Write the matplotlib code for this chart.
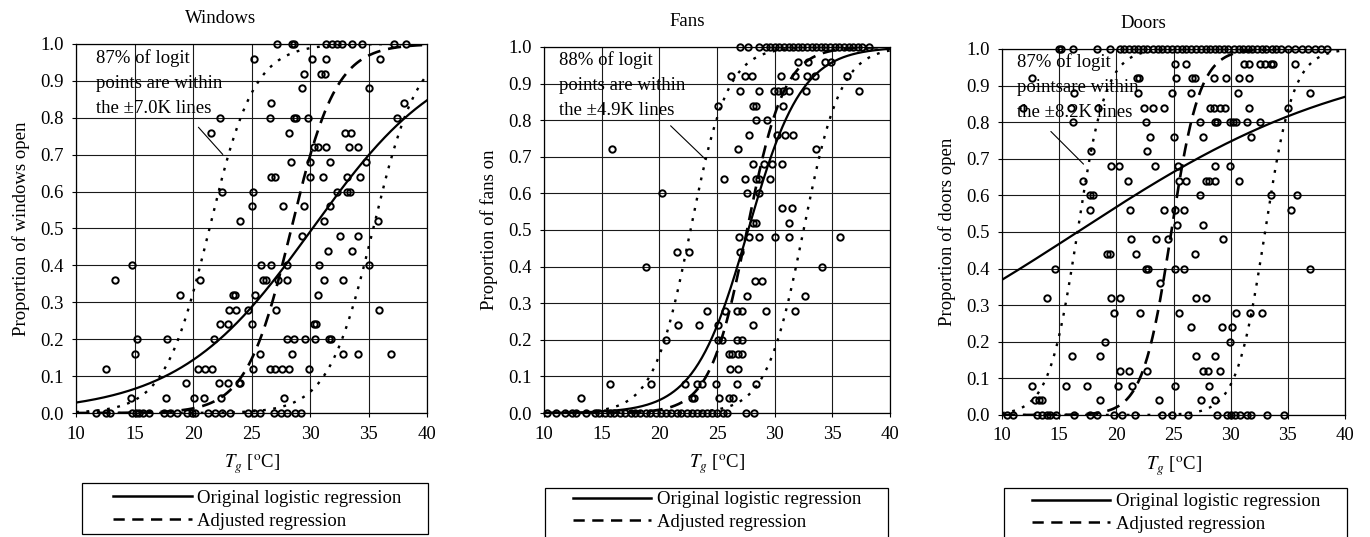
import numpy as np
import matplotlib
matplotlib.use("Agg")
import matplotlib.pyplot as plt
from matplotlib.patches import Rectangle
from matplotlib.lines import Line2D

plt.rcParams['font.family'] = ['Liberation Serif', 'DejaVu Serif']
plt.rcParams['mathtext.fontset'] = 'stix'
FS = 13.5

# panel names and labels
titles = ["Windows", "Fans", "Doors"]
ylabels = ["Proportion of windows open", "Proportion of fans on", "Proportion of doors open"]
notes = ["87% of logit\npoints are within\nthe \u00b17.0K lines",
         "88% of logit\npoints are within\nthe \u00b14.9K lines",
         "87% of logit\npointsare within\nthe \u00b18.2K lines"]

# logistic regression parameters (midpoint degC, slope 1/K)
orig_mid = [30.2, 27.7, 16.6]
orig_slope = [0.175, 0.43, 0.081]
adj_mid = [28.4, 27.6, 24.8]
adj_slope = [0.52, 0.62, 0.8]
band_k = [7.0, 4.9, 8.2]

# scattered observations: proportion -> list of Tg values
win_pts = {
    1.00: [27.2, 28.5, 28.6, 31.4, 31.9, 32.3, 32.7, 33.6, 34.4, 37.2, 38.2],
    0.96: [25.2, 30.2, 31.4, 36.0],
    0.92: [29.5, 30.9, 31.3],
    0.88: [29.3, 35.0],
    0.84: [26.7, 38.0],
    0.80: [22.3, 26.6, 28.6, 28.8, 29.8, 37.4],
    0.76: [21.5, 28.2, 33.0, 33.5],
    0.72: [30.3, 30.7, 31.4, 33.3, 34.1],
    0.68: [28.4, 30.0, 31.7, 34.8],
    0.64: [26.7, 27.0, 30.0, 31.1, 33.2, 34.3],
    0.60: [22.5, 25.1, 32.3, 33.2, 33.4],
    0.56: [25.0, 27.7, 29.5, 31.7],
    0.52: [24.0, 31.2, 35.8],
    0.48: [29.3, 32.6, 34.1],
    0.44: [31.5, 33.6],
    0.40: [14.8, 25.8, 26.7, 28.0, 30.8, 35.0],
    0.36: [13.3, 20.6, 26.0, 26.2, 27.3, 28.0, 31.2, 32.8],
    0.32: [18.9, 23.4, 23.6, 25.3, 30.7],
    0.28: [23.1, 23.7, 24.7, 27.1, 35.9],
    0.24: [22.3, 23.0, 25.0, 30.3, 30.5],
    0.20: [15.2, 17.8, 21.8, 28.0, 28.6, 29.6, 30.4, 31.6, 31.8],
    0.16: [15.0, 25.7, 28.5, 32.8, 34.1, 36.9],
    0.12: [12.6, 20.4, 21.0, 21.6, 25.1, 26.6, 27.0, 27.6, 28.2, 29.9],
    0.08: [19.4, 22.2, 23.0, 23.9, 24.0],
    0.04: [14.7, 17.7, 20.1, 20.9, 22.4, 27.8],
    0.00: [11.7, 12.6, 12.9, 14.8, 15.1, 15.4, 15.7, 16.2, 17.5, 18.0, 18.6,
           19.5, 19.9, 20.2, 21.3, 21.9, 22.5, 23.2, 24.7, 25.2, 25.7,
           26.9, 27.5, 28.0, 28.7, 29.2],
}
fan_pts = {
    1.00: [27.0, 27.7, 28.6, 29.2, 29.6, 30.0, 30.4, 30.8, 31.2, 31.6, 32.0, 32.4,
           32.8, 33.2, 33.6, 34.0, 34.4, 34.8, 35.2, 35.6, 36.0, 36.4, 36.8,
           37.2, 37.6, 38.2],
    0.96: [32.0, 32.9, 34.4, 34.9],
    0.92: [26.2, 27.4, 28.0, 30.5, 31.8, 32.8, 33.5, 36.3],
    0.88: [27.0, 28.6, 29.9, 30.3, 30.7, 31.2, 32.7, 37.3],
    0.84: [25.1, 28.1, 28.4, 30.7],
    0.80: [28.4, 29.3],
    0.76: [27.8, 30.2, 30.9, 31.6],
    0.72: [15.9, 26.8, 33.6],
    0.68: [28.1, 29.1, 29.8, 30.6],
    0.64: [25.6, 27.4, 28.4, 28.6, 29.6],
    0.60: [20.2, 27.6, 28.6],
    0.56: [30.6, 31.5],
    0.52: [28.1, 28.4, 31.2],
    0.48: [26.9, 27.8, 28.6, 30.0, 31.2, 35.7],
    0.44: [21.5, 22.6, 27.0],
    0.40: [18.8, 34.1],
    0.36: [28.3, 28.9],
    0.32: [27.6, 32.6],
    0.28: [24.1, 25.7, 26.7, 27.2, 29.2, 31.8],
    0.24: [21.6, 23.4, 25.1, 28.1],
    0.20: [20.6, 25.1, 25.4, 26.7, 27.2],
    0.16: [26.0, 26.3, 26.8, 27.2],
    0.12: [26.1, 26.8],
    0.08: [15.7, 19.3, 22.2, 23.3, 23.7, 24.9, 26.7, 28.4],
    0.04: [13.2, 22.8, 23.0, 25.2, 26.0, 26.4],
    0.00: [10.3, 11.0, 11.8, 12.4, 12.8, 13.6, 14.4, 14.8, 15.3, 15.7, 16.1,
           16.6, 17.0, 17.5, 17.9, 18.3, 18.8, 19.2, 19.7, 20.1, 20.6, 21.0,
           21.5, 21.9, 22.4, 22.8, 23.3, 23.7, 24.1, 24.6, 25.0, 25.5, 25.9,
           27.5, 28.2],
}
door_pts = {
    1.00: [15.0, 15.2, 16.2, 18.3, 19.4, 20.3, 20.7, 21.1, 21.5, 21.9, 22.3,
           22.7, 23.2, 23.6, 24.0, 24.4, 24.9, 25.3, 25.7, 26.1, 26.5, 27.0,
           27.4, 27.8, 28.2, 28.6, 29.0, 29.4, 29.8, 30.3, 30.7, 31.1, 31.5,
           31.9, 32.3, 32.7, 33.1, 33.6, 34.0, 34.4, 35.0, 35.6, 36.2, 36.8,
           37.4, 37.9, 38.4],
    0.96: [25.1, 26.1, 31.2, 31.6, 32.6, 33.0, 33.5, 33.7, 35.6],
    0.92: [12.6, 21.8, 22.0, 25.2, 26.6, 26.9, 28.5, 29.6, 30.7, 31.6],
    0.88: [16.3, 21.9, 24.9, 26.5, 30.6, 36.9],
    0.84: [11.8, 16.0, 18.4, 22.4, 23.2, 24.2, 28.2, 28.5, 29.1, 29.5, 31.6, 35.0],
    0.80: [16.2, 22.6, 27.3, 28.6, 28.8, 29.9, 30.2, 30.5, 31.4, 32.6],
    0.76: [22.9, 25.0, 27.6, 31.8],
    0.72: [17.8, 22.7],
    0.68: [19.5, 20.2, 23.4, 25.4, 28.6, 29.9],
    0.64: [17.1, 21.0, 25.5, 26.1, 27.8, 28.1, 28.6, 30.7],
    0.60: [17.7, 18.0, 27.3, 33.5, 35.8],
    0.56: [17.7, 21.2, 24.2, 25.1, 25.9, 35.3],
    0.52: [25.3, 27.6],
    0.48: [21.3, 23.5, 24.5, 29.3],
    0.44: [19.2, 19.4, 21.7, 26.9],
    0.40: [14.6, 22.6, 22.8, 25.1, 25.9, 36.9],
    0.36: [23.8],
    0.32: [13.9, 19.5, 20.3, 27.0, 27.8],
    0.28: [19.8, 22.1, 25.5, 30.5, 31.7, 32.7],
    0.24: [26.5, 29.2, 30.1],
    0.20: [19.0, 29.9],
    0.16: [16.1, 18.6, 27.0, 28.6],
    0.12: [20.3, 21.1, 22.7, 27.6, 28.0, 29.1],
    0.08: [12.6, 15.6, 17.4, 20.1, 21.4, 25.1, 28.1],
    0.04: [12.9, 13.2, 13.5, 18.6, 23.7, 27.4, 28.6],
    0.00: [10.4, 11.0, 13.1, 13.5, 13.9, 14.2, 14.7, 16.3, 17.7, 18.3, 19.8,
           20.5, 21.6, 24.0, 24.9, 26.3, 28.8, 29.7, 30.0, 30.4, 30.8, 31.4,
           31.8, 33.2, 34.7],
}
all_pts = [win_pts, fan_pts, door_pts]

# layout (figure fractions) and decorations (axes fractions)
rects = [[0.0555, 0.2309, 0.2562, 0.6872],
         [0.3971, 0.2309, 0.2526, 0.6816],
         [0.7314, 0.2272, 0.2504, 0.6816]]
note_pos = [(0.058, 0.985), (0.043, 0.988), (0.044, 0.988)]
arrow_xy = [((20.3, 0.78), (22.7, 0.695)),
            ((20.8, 0.79), (24.1, 0.69)),
            ((14.1, 0.78), (17.3, 0.68))]
leg_box = [(0.017, -0.328, 0.986, 0.138),
           (0.003, -0.36, 0.991, 0.155),
           (0.006, -0.37, 1.0, 0.17)]
leg_center = [(0.516, -0.262), (0.5, -0.268), (0.507, -0.268)]


def logistic(x, m, b):
    return 1.0 / (1.0 + np.exp(-b * (x - m)))


fig = plt.figure(figsize=(13.7, 5.37), dpi=100)
x = np.linspace(10, 40, 400)

for i in range(3):
    ax = fig.add_axes(rects[i])
    ax.set_xlim(10, 40)
    ax.set_ylim(0, 1.0)
    ax.set_xticks(np.arange(10, 41, 5))
    ax.set_yticks(np.arange(0, 1.01, 0.1))
    ax.set_yticklabels([f"{v:.1f}" for v in np.arange(0, 1.01, 0.1)])
    ax.grid(True, color='0.1', lw=0.8)
    ax.set_axisbelow(True)
    for s in ax.spines.values():
        s.set_linewidth(0.9)
    ax.tick_params(labelsize=FS, direction='out', length=3, width=0.8, pad=6)

    pts = all_pts[i]
    for yv, xs in pts.items():
        ax.plot(xs, [yv] * len(xs), 'o', ms=4.6, mfc='none', mec='black',
                mew=1.4, clip_on=False, zorder=3)

    ax.plot(x, logistic(x, orig_mid[i], orig_slope[i]), color='black', lw=1.6, zorder=4)
    ax.plot(x, logistic(x, adj_mid[i], adj_slope[i]), color='black', lw=1.9,
            dashes=(5, 3), zorder=4)
    for sgn in (-1, 1):
        ax.plot(x, logistic(x, adj_mid[i] + sgn * band_k[i], adj_slope[i]),
                color='black', lw=1.7, dashes=(1.2, 3.2), zorder=4)

    ax.set_title(titles[i], fontsize=FS, x=0.413, pad=15)
    ax.set_ylabel(ylabels[i], fontsize=FS, labelpad=7)
    ax.set_xlabel(r'$T_g$ [$^{\rm o}$C]', fontsize=FS, labelpad=7)

    ax.text(note_pos[i][0], note_pos[i][1], notes[i], transform=ax.transAxes,
            fontsize=FS, va='top', ha='left', linespacing=1.6, zorder=5)
    ax.annotate('', xy=arrow_xy[i][1], xytext=arrow_xy[i][0],
                arrowprops=dict(arrowstyle='-', color='black', lw=0.8))

    bx, by, bw, bh = leg_box[i]
    ax.add_patch(Rectangle((bx, by), bw, bh, transform=ax.transAxes,
                           fill=False, ec='black', lw=0.9, clip_on=False))
    handles = [Line2D([], [], color='black', lw=1.8),
               Line2D([], [], color='black', lw=1.8, dashes=(4.5, 3))]
    ax.legend(handles, ["Original logistic regression", "Adjusted regression"],
              loc='center', bbox_to_anchor=leg_center[i], frameon=False,
              fontsize=FS, handlelength=4.2, handletextpad=0.3,
              labelspacing=0.3, borderpad=0.0)

fig.savefig("out.png", dpi=100)
